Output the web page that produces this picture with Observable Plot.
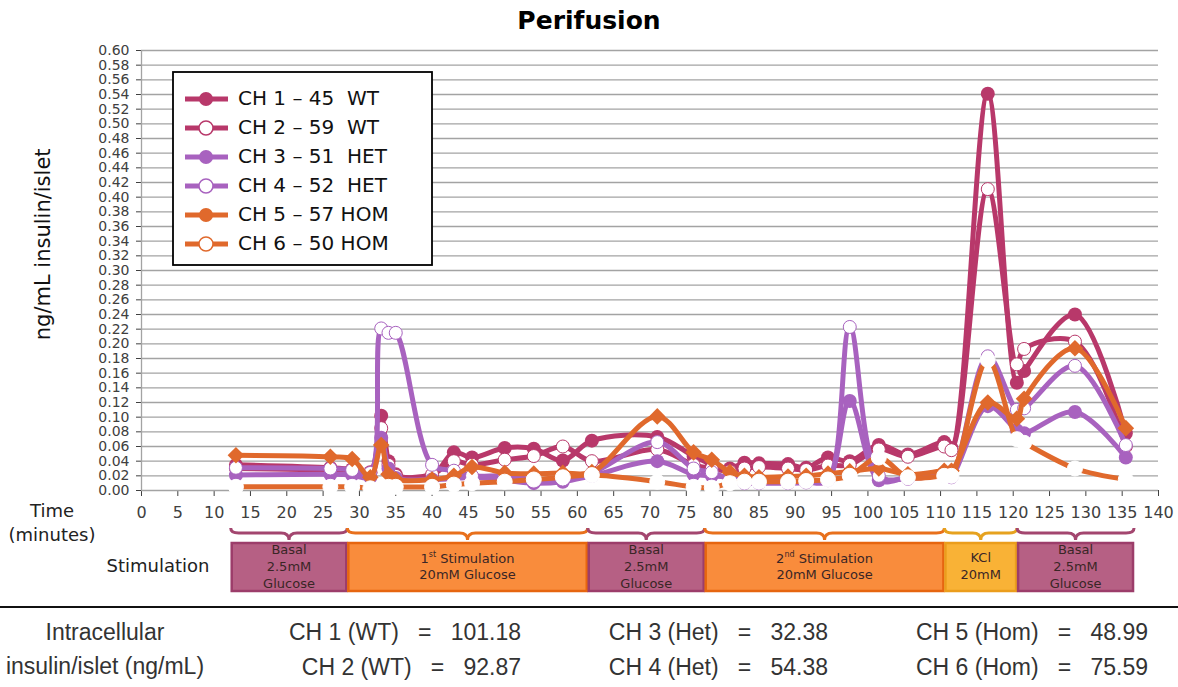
<!DOCTYPE html>
<html><head><meta charset="utf-8">
<script src="https://cdn.jsdelivr.net/npm/d3@7"></script>
<script src="https://cdn.jsdelivr.net/npm/@observablehq/plot@0.6"></script>
<style>
body{margin:0;background:#fff;font-family:"DejaVu Sans",sans-serif;width:1178px;height:687px;overflow:hidden;position:relative}
#title{height:40px;line-height:42px;text-align:center;font-weight:bold;font-size:25px;color:#000}
#chart svg{display:block}
#bottom{position:absolute;top:606px;left:0;width:1178px;height:81px;border-top:2px solid #111}
.t{position:absolute;white-space:pre;font-family:"Liberation Sans Narrow","Liberation Sans",sans-serif;font-size:23px;line-height:28px;color:#333}
</style></head>
<body>
<div id="title">Perifusion</div>
<div id="chart"></div>
<div id="bottom"></div>
<script>
// ---- data ----
const times = [13, 26, 29, 31.5, 33, 34, 35, 40, 43, 45.5, 50, 54, 58, 62, 71, 76, 78.5, 81, 83, 85, 89, 91.5, 94.5, 97.5, 101.5, 105.5, 110.5, 111.5, 116.5, 120.5, 121.5, 128.5, 135.5];
const ch1 = [0.035,0.031,0.029,0.025,0.102,0.040,0.022,0.020,0.052,0.045,0.058,0.057,0.041,0.068,0.073,0.047,0.036,0.030,0.038,0.037,0.036,0.031,0.045,0.040,0.062,0.049,0.066,0.058,0.541,0.147,0.163,0.240,0.078];
const ch2 = [0.030,0.028,0.027,0.024,0.085,0.035,0.020,0.022,0.040,0.035,0.042,0.047,0.060,0.040,0.056,0.035,0.030,0.026,0.030,0.032,0.030,0.028,0.034,0.035,0.056,0.046,0.060,0.055,0.411,0.172,0.193,0.203,0.060];
const ch3 = [0.021,0.022,0.021,0.018,0.072,0.030,0.017,0.015,0.016,0.018,0.014,0.010,0.012,0.020,0.040,0.022,0.020,0.018,0.016,0.014,0.012,0.012,0.015,0.122,0.014,0.018,0.020,0.020,0.115,0.082,0.078,0.107,0.045];
const ch4 = [0.031,0.030,0.028,0.024,0.221,0.215,0.215,0.035,0.027,0.020,0.020,0.015,0.015,0.024,0.066,0.030,0.025,0.015,0.010,0.010,0.010,0.011,0.014,0.223,0.020,0.016,0.020,0.018,0.183,0.110,0.112,0.170,0.062];
const ch5 = [0.048,0.046,0.043,0.018,0.062,0.022,0.015,0.015,0.020,0.032,0.024,0.023,0.024,0.025,0.101,0.052,0.042,0.025,0.020,0.018,0.019,0.020,0.023,0.026,0.030,0.022,0.027,0.027,0.120,0.098,0.125,0.194,0.085];
const ch6 = [0.005,0.005,0.005,0.003,0.004,0.005,0.005,0.005,0.008,0.010,0.012,0.015,0.018,0.021,0.012,0.005,0.004,0.010,0.012,0.012,0.012,0.013,0.015,0.020,0.045,0.018,0.020,0.020,0.178,0.070,0.065,0.030,0.015];
const seriesNames = ["CH 1 – 45  WT","CH 2 – 59  WT","CH 3 – 51  HET","CH 4 – 52  HET","CH 5 – 57 HOM","CH 6 – 50 HOM"];
const seriesValues = [ch1, ch2, ch3, ch4, ch5, ch6];
const xTicks = d3.range(0, 141, 5);
const yTicks = d3.range(0, 31).map(i => +(i * 0.02).toFixed(2));
const stimStart = [12.35, 28.4, 61.5, 77.6, 110.6, 120.6];
const stimEnd   = [28.4, 61.5, 77.6, 110.6, 120.6, 136.7];
const stimKind  = ["basal","stim","basal","stim","kcl","basal"];
const stimText  = [["Basal","2.5mM","Glucose"],["1|st| Stimulation","20mM Glucose"],["Basal","2.5mM","Glucose"],["2|nd| Stimulation","20mM Glucose"],["KCl","20mM"],["Basal","2.5mM","Glucose"]];
const intraLabels = ["CH 1 (WT)   =   101.18","CH 2 (WT)   =   92.87","CH 3 (Het)   =   32.38","CH 4 (Het)   =   54.38","CH 5 (Hom)   =   48.99","CH 6 (Hom)   =   75.59"];

// ---- styles ----
const PINK = "#b8386a", PURPLE = "#a862bf", ORANGE = "#e0692c";
const styles = [
  {color: PINK, fill: PINK, stroke: "none", symbol: "circle", r: 7},
  {color: PINK, fill: "white", stroke: PINK, symbol: "circle", r: 6.5},
  {color: PURPLE, fill: PURPLE, stroke: "none", symbol: "circle", r: 7},
  {color: PURPLE, fill: "white", stroke: PURPLE, symbol: "circle", r: 6.5},
  {color: ORANGE, fill: ORANGE, stroke: "none", symbol: "diamond2", r: 7.5},
  {color: ORANGE, fill: "white", stroke: "white", symbol: "circle", r: 7.5}
];

const data = seriesValues.map((vals, k) => vals.map((v, i) => ({t: times[i], v, ch: seriesNames[k]})));

const marks = [
  Plot.ruleY(yTicks, {stroke: "#a3a3a3", strokeWidth: 1.3}),
  Plot.ruleX([0], {stroke: "#a3a3a3", strokeWidth: 1.3})
];
data.forEach((d, k) => {
  const s = styles[k];
  marks.push(Plot.line(d, {x: "t", y: "v", stroke: s.color, strokeWidth: 5, curve: "catmull-rom"}));
  marks.push(Plot.dot(d, {x: "t", y: "v", symbol: s.symbol, r: s.r, fill: s.fill, stroke: s.stroke, strokeWidth: 1}));
});

const chart = Plot.plot({
  width: 1178, height: 567,
  marginLeft: 141, marginRight: 20, marginTop: 10, marginBottom: 117,
  style: {fontFamily: "DejaVu Sans", fontSize: "16px", color: "#404040", background: "white", overflow: "visible"},
  x: {domain: [0, 140], ticks: xTicks, tickSize: 6, tickPadding: 10, label: null},
  y: {domain: [0, 0.6], ticks: yTicks, tickFormat: d3.format(".2f"), tickSize: 5, tickPadding: 7, label: null},
  marks
});
document.getElementById("chart").appendChild(chart);
// y tick labels slightly smaller so they stack like the reference
d3.select(chart).selectAll("g[aria-label='y-axis tick label'] text, g[aria-label='y-axis'] text").style("font-size", "14px");

// ---- extras drawn with the plot's own scales ----
const sx = chart.scale("x"), sy = chart.scale("y");
const svg = d3.select(chart);
const X = t => sx.apply(t);

svg.append("text").attr("transform", `translate(44,${sy.apply(0.335)}) rotate(-90)`)
  .attr("text-anchor", "middle").attr("dominant-baseline", "middle")
  .style("font-size", "21px").style("fill", "#111").text("ng/mL insulin/islet");

const axisY0 = sy.apply(0);
svg.append("text").attr("x", 52).attr("y", axisY0 + 22).attr("text-anchor", "middle").attr("dominant-baseline", "middle")
  .style("font-size", "18px").style("fill", "#222").text("Time");
svg.append("text").attr("x", 52).attr("y", axisY0 + 46).attr("text-anchor", "middle").attr("dominant-baseline", "middle")
  .style("font-size", "18px").style("fill", "#222").text("(minutes)");
svg.append("text").attr("x", 158).attr("y", axisY0 + 77).attr("text-anchor", "middle").attr("dominant-baseline", "middle")
  .style("font-size", "18px").style("fill", "#222").text("Stimulation");

const kindStyle = {
  basal: {fill: "#b66084", stroke: "#9c3d6a", brace: "#a3466f"},
  stim:  {fill: "#f98c3c", stroke: "#e6650f", brace: "#e8701c"},
  kcl:   {fill: "#f9b236", stroke: "#eb9d1c", brace: "#e6a21f"}
};
const bTop = axisY0 + 38, bMid = axisY0 + 43, bTip = axisY0 + 50;
const boxTop = axisY0 + 53, boxBot = axisY0 + 101;
stimStart.forEach((a, i) => {
  const x1 = X(a), x2 = X(stimEnd[i]), m = (x1 + x2) / 2, ks = kindStyle[stimKind[i]];
  const p = `M${x1},${bTop} Q${x1},${bMid} ${x1 + 8},${bMid} L${m - 8},${bMid} Q${m},${bMid} ${m},${bTip} Q${m},${bMid} ${m + 8},${bMid} L${x2 - 8},${bMid} Q${x2},${bMid} ${x2},${bTop}`;
  svg.append("path").attr("d", p).attr("fill", "none").attr("stroke", ks.brace).attr("stroke-width", 3);
  svg.append("rect").attr("x", x1 + 1).attr("y", boxTop).attr("width", x2 - x1 - 2).attr("height", boxBot - boxTop)
    .attr("fill", ks.fill).attr("stroke", ks.stroke).attr("stroke-width", 2.5);
  const lines = stimText[i], lh = 17;
  const y0 = (boxTop + boxBot) / 2 - (lines.length - 1) * lh / 2;
  lines.forEach((ln, j) => {
    const tx = svg.append("text").attr("x", m).attr("y", y0 + j * lh).attr("text-anchor", "middle")
      .attr("dominant-baseline", "middle").style("font-size", "13px").style("fill", "#3a2626");
    const parts = ln.split("|");
    if (parts.length === 3) {
      tx.append("tspan").text(parts[0]);
      tx.append("tspan").attr("dy", -5).style("font-size", "8px").text(parts[1]);
      tx.append("tspan").attr("dy", 5).text(parts[2]);
    } else tx.text(ln);
  });
});

// legend
const lg = svg.append("g").attr("text-anchor", "start");
lg.append("rect").attr("x", 173).attr("y", 32).attr("width", 259).attr("height", 193)
  .attr("fill", "white").attr("stroke", "#000").attr("stroke-width", 1.8);
seriesNames.forEach((n, k) => {
  const y = 59 + k * 29, s = styles[k];
  lg.append("line").attr("x1", 185).attr("x2", 228).attr("y1", y).attr("y2", y).attr("stroke", s.color).attr("stroke-width", 5);
  lg.append("circle").attr("cx", 206).attr("cy", y).attr("r", 7)
    .attr("fill", k % 2 === 0 ? s.color : "white").attr("stroke", s.color).attr("stroke-width", k % 2 === 0 ? 0 : 1.5);
  lg.append("text").attr("x", 238).attr("y", y).attr("text-anchor", "start").attr("dominant-baseline", "middle")
    .style("font-size", "20px").style("fill", "#111").style("white-space", "pre").text(n);
});

// bottom table
const bottom = document.getElementById("bottom");
function addText(txt, left, right, top, align) {
  const el = document.createElement("div");
  el.className = "t"; el.textContent = txt; el.style.top = top + "px";
  if (align === "right") { el.style.right = (1178 - right) + "px"; el.style.textAlign = "right"; }
  else { el.style.left = left + "px"; el.style.width = (right - left) + "px"; el.style.textAlign = "center"; }
  bottom.appendChild(el);
}
addText("Intracellular", -20, 230, 10, "center");
addText("insulin/islet (ng/mL)", -20, 230, 44, "center");
const rights = [521, 828, 1148];
intraLabels.forEach((s, i) => addText(s, 0, rights[Math.floor(i / 2)], i % 2 === 0 ? 10 : 45, "right"));
</script>
</body></html>
